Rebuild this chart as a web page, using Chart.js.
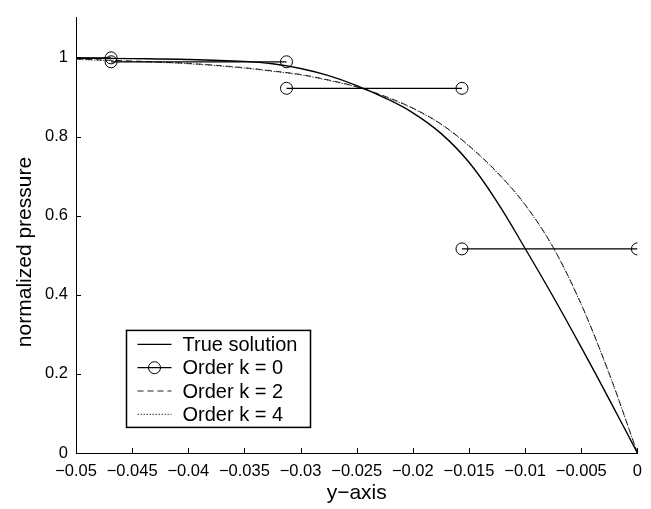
<!DOCTYPE html>
<html>
<head>
<meta charset="utf-8">
<script src="https://cdn.jsdelivr.net/npm/chart.js@4/dist/chart.umd.min.js"></script>
<style>
  html, body { margin: 0; padding: 0; background: #fff; }
  #wrap { width: 651px; height: 509px; }
</style>
</head>
<body>
<div id="wrap"><canvas id="chart"></canvas></div>
<script>
// x positions (y-axis coordinate) shared by the smooth curves
const gridX = [-0.05, -0.045, -0.04, -0.035, -0.0325, -0.03, -0.0275, -0.025, -0.0225,
               -0.02, -0.0175, -0.015, -0.0125, -0.01, -0.0075, -0.005, -0.0025, 0];
const trueY = [0.998, 0.997, 0.995, 0.99, 0.984, 0.972, 0.954, 0.929, 0.898,
               0.86, 0.808, 0.735, 0.635, 0.517, 0.395, 0.267, 0.135, 0];
const k2Y   = [0.996, 0.991, 0.985, 0.974, 0.966, 0.957, 0.943, 0.926, 0.902,
               0.872, 0.832, 0.777, 0.71, 0.628, 0.52, 0.376, 0.2, 0];
const k4Y   = [0.995, 0.99, 0.984, 0.973, 0.965, 0.956, 0.942, 0.925, 0.901,
               0.871, 0.831, 0.776, 0.709, 0.627, 0.519, 0.375, 0.199, 0];
// order k = 0: piecewise constant elements (null = break between elements)
const k0X = [-0.0625, -0.046875, -0.046875, -0.046875, -0.03125, -0.03125,
             -0.03125, -0.015625, -0.015625, -0.015625, 0];
const k0Y = [0.999, 0.999, null, 0.989, 0.989, null, 0.922, 0.922, null, 0.516, 0.516];
const xTicks = [-0.05, 0];
const yTicks = [0, 1];
const labels = ['True solution', 'Order k = 0', 'Order k = 2', 'Order k = 4'];

const pts = (xs, ys) => xs.map((x, i) => ({ x: x, y: ys[i] }));
const tickFont = { family: 'Liberation Sans, Arial, sans-serif', size: 16.5 };
const titleFont = { family: 'Liberation Sans, Arial, sans-serif', size: 21 };

const decor = {
  id: 'decor',
  afterDraw(chart) {
    const { ctx, chartArea: a, scales: { x, y } } = chart;
    ctx.save();
    ctx.strokeStyle = '#000';
    ctx.lineWidth = 1;
    // inward tick marks
    ctx.beginPath();
    x.ticks.forEach((t, i) => {
      const px = Math.round(x.getPixelForTick(i)) + 0.5;
      ctx.moveTo(px, a.bottom); ctx.lineTo(px, a.bottom - 5);
    });
    y.ticks.forEach((t, i) => {
      const py = Math.round(y.getPixelForTick(i)) + 0.5;
      ctx.moveTo(a.left, py); ctx.lineTo(a.left + 5, py);
    });
    ctx.stroke();

    // y title
    ctx.save();
    ctx.translate(25, 252);
    ctx.rotate(-Math.PI / 2);
    ctx.fillStyle = '#000';
    ctx.font = '21px "Liberation Sans", Arial, sans-serif';
    ctx.textAlign = 'center';
    ctx.textBaseline = 'middle';
    ctx.fillText('normalized pressure', 0, 0);
    ctx.restore();

    // legend box inside the axes
    const bx = a.left + 50.5, by = a.top + 312.5, bw = 184, bh = 97;
    ctx.fillStyle = '#fff';
    ctx.fillRect(bx, by, bw, bh);
    ctx.lineWidth = 1.5;
    ctx.strokeRect(bx, by, bw, bh);
    ctx.font = '20px "Liberation Sans", Arial, sans-serif';
    ctx.textBaseline = 'middle';
    ctx.textAlign = 'left';
    chart.data.datasets.forEach((ds, i) => {
      const ry = by + 14 + i * 23.3;
      ctx.save();
      ctx.strokeStyle = ds.borderColor;
      ctx.lineWidth = ds.borderWidth;
      ctx.setLineDash(ds.borderDash || []);
      ctx.beginPath();
      ctx.moveTo(bx + 11, ry); ctx.lineTo(bx + 45, ry);
      ctx.stroke();
      if (ds.pointRadius > 0) {
        ctx.setLineDash([]);
        ctx.lineWidth = 1;
        ctx.beginPath();
        ctx.arc(bx + 28, ry, ds.pointRadius, 0, Math.PI * 2);
        ctx.stroke();
      }
      ctx.restore();
      ctx.fillStyle = '#000';
      ctx.fillText(ds.label, bx + 56, ry + 1);
    });
    ctx.restore();
  }
};

new Chart(document.getElementById('chart'), {
  type: 'line',
  data: {
    datasets: [
      {
        label: labels[0],
        data: pts(gridX, trueY),
        borderColor: '#000',
        borderWidth: 1.4,
        pointRadius: 0,
        tension: 0.4
      },
      {
        label: labels[1],
        data: pts(k0X, k0Y),
        borderColor: '#000',
        borderWidth: 1.2,
        pointRadius: 6,
        pointBorderWidth: 1,
        pointBackgroundColor: 'rgba(0,0,0,0)',
        pointBorderColor: '#000',
        spanGaps: false
      },
      {
        label: labels[2],
        data: pts(gridX, k2Y),
        borderColor: '#222',
        borderWidth: 1,
        borderDash: [6, 4],
        pointRadius: 0,
        cubicInterpolationMode: 'monotone'
      },
      {
        label: labels[3],
        data: pts(gridX, k4Y),
        borderColor: '#333',
        borderWidth: 1,
        borderDash: [1.5, 1.5],
        pointRadius: 0,
        cubicInterpolationMode: 'monotone'
      }
    ]
  },
  options: {
    responsive: true,
    maintainAspectRatio: false,
    animation: false,
    events: [],
    layout: { padding: { top: 10, right: 12, left: 0, bottom: 0 } },
    plugins: {
      legend: { display: false },
      tooltip: { enabled: false }
    },
    scales: {
      x: {
        type: 'linear',
        min: xTicks[0],
        max: xTicks[1],
        afterFit: s => { s.height = 56; },
        grid: { display: false, drawTicks: false },
        border: { display: true, color: '#000', width: 1 },
        ticks: {
          stepSize: 0.005,
          color: '#000',
          font: tickFont,
          padding: 9,
          maxRotation: 0,
          autoSkip: false,
          callback: v => {
            const n = parseFloat(Number(v).toFixed(3));
            return n === 0 ? '0' : (n < 0 ? '\u2212' : '') + Math.abs(n);
          }
        },
        title: {
          display: true,
          text: 'y\u2212axis',
          color: '#000',
          font: titleFont,
          padding: { top: 0, bottom: 3 }
        }
      },
      y: {
        min: yTicks[0],
        max: 1.1,
        afterFit: s => { s.width = 76; },
        afterBuildTicks: s => { s.ticks = s.ticks.filter(t => t.value <= yTicks[1] + 1e-9); },
        grid: { display: false, drawTicks: false },
        border: { display: true, color: '#000', width: 1 },
        ticks: {
          stepSize: 0.2,
          color: '#000',
          font: tickFont,
          padding: 8,
          callback: v => String(parseFloat(Number(v).toFixed(2)))
        }
      }
    }
  },
  plugins: [decor]
});
</script>
</body>
</html>
